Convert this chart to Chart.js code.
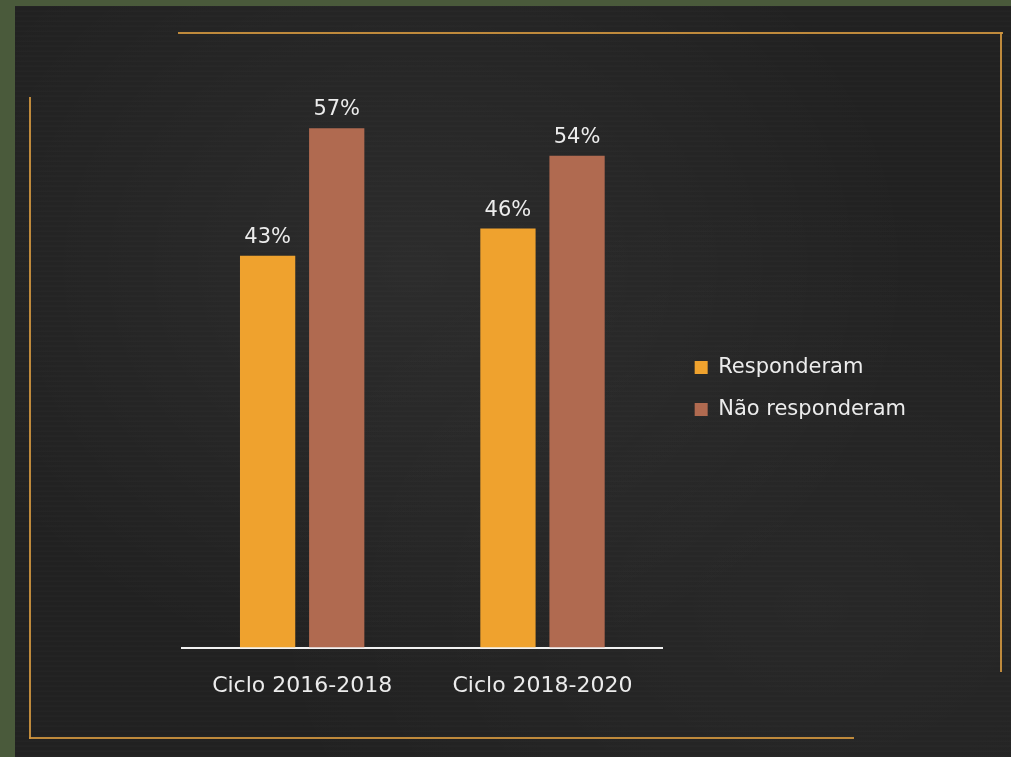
<!DOCTYPE html>
<html>
<head>
<meta charset="utf-8">
<script src="https://cdn.jsdelivr.net/npm/chart.js@4.4.0/dist/chart.umd.min.js"></script>
<style>
  html, body { margin: 0; padding: 0; }
  body {
    width: 1011px; height: 757px; overflow: hidden; position: relative;
    background: #4a5a3b;
  }
  /* quadro negro */
  .quadro {
    position: absolute; left: 15px; top: 6px; right: 0; bottom: 0;
    background:
      radial-gradient(ellipse at 40% 35%, rgba(255,255,255,0.05), rgba(0,0,0,0) 60%),
      radial-gradient(ellipse at 80% 80%, rgba(255,255,255,0.03), rgba(0,0,0,0) 50%),
      repeating-linear-gradient(0deg, rgba(255,255,255,0.015) 0px, rgba(255,255,255,0.015) 1px, rgba(0,0,0,0) 2px, rgba(0,0,0,0) 5px),
      #212121;
  }
  .linha { position: absolute; background: #d0963f; opacity: 0.9; }
  .caixa { position: absolute; left: 0; top: 0; width: 1011px; height: 757px; }
</style>
</head>
<body>
<div class="quadro"></div>
<div class="linha" style="left:178px; top:32px; width:825px; height:2px;"></div>
<div class="linha" style="left:1000px; top:32px; width:2px; height:640px;"></div>
<div class="linha" style="left:29px; top:97px; width:2px; height:642px;"></div>
<div class="linha" style="left:29px; top:737px; width:825px; height:2px;"></div>
<div class="caixa"><canvas id="grafico"></canvas></div>

<script>
// Dados do gráfico

const ciclos = ['Ciclo 2016-2018', 'Ciclo 2018-2020'];
const responderam = [43, 46];
const naoResponderam = [57, 54];

const fonte = "'DejaVu Sans', sans-serif";

// Plugin simples para escrever o valor em cima de cada barra
const rotulos = {
  id: 'rotulos',
  afterDatasetsDraw(chart) {
    const ctx = chart.ctx;
    ctx.save();
    ctx.fillStyle = '#ececec';
    ctx.font = '21px ' + fonte;
    ctx.textAlign = 'center';
    ctx.textBaseline = 'alphabetic';
    chart.data.datasets.forEach((ds, i) => {
      chart.getDatasetMeta(i).data.forEach((barra, j) => {
        ctx.fillText(ds.data[j] + '%', barra.x, barra.y - 13);
      });
    });
    ctx.restore();
  }
};

// empurra a legenda um pouco (fica mais longe das barras e mais alta)
const ajusteLegenda = {
  id: 'ajusteLegenda',
  afterLayout(chart) {
    const leg = chart.legend;
    leg.left += 11; leg.right += 11;
    leg.top -= 20; leg.bottom -= 20;
  }
};

const dados = {
  labels: ciclos,
  datasets: [{
    label: 'Responderam',
    backgroundColor: '#efa22e',
    data: responderam
  }, {
    label: 'Não responderam',
    backgroundColor: '#b06a50',
    data: naoResponderam
  }]
};

const config = {
  type: 'bar',
  data: dados,
  options: {
    responsive: true,
    maintainAspectRatio: false,
    animation: false,
    categoryPercentage: 0.575,
    barPercentage: 0.8,
    layout: {
      padding: { left: 182, top: 101, bottom: 41, right: 106 }
    },
    scales: {
      y: { display: false, min: 0, max: 60 },
      x: {
        grid: { display: false },
        border: { display: true, color: '#f2f2f2', width: 2 },
        ticks: { color: '#ececec', font: { family: fonte, size: 22 }, padding: 17 }
      }
    },
    plugins: {
      tooltip: { enabled: false },
      legend: {
        position: 'right',
        labels: {
          color: '#ececec',
          font: { family: fonte, size: 21 },
          boxWidth: 13,
          boxHeight: 13,
          padding: 21
        }
      }
    }
  },
  plugins: [rotulos, ajusteLegenda]
};

const meuGrafico = new Chart(document.getElementById('grafico'), config);
</script>
</body>
</html>
